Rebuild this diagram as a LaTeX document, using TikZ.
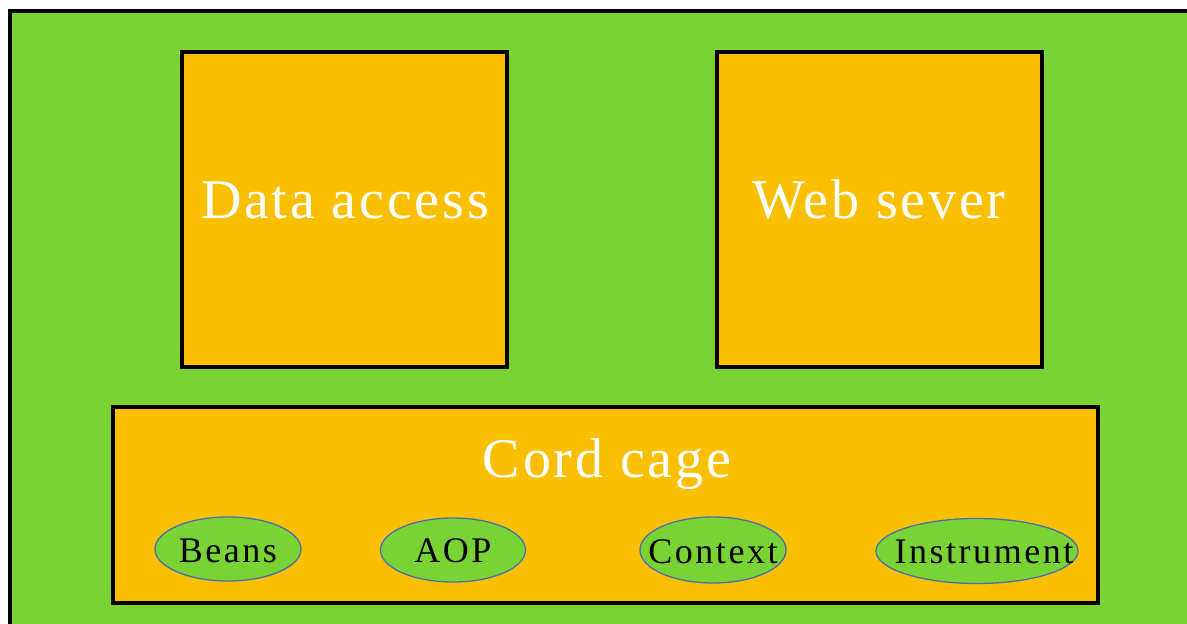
\documentclass[tikz,border=0pt]{standalone}
\usepackage{fontspec}
\setmainfont{Liberation Serif}
\usetikzlibrary{shapes.geometric}
\definecolor{bggreen}{HTML}{7AD334}
\definecolor{boxorange}{HTML}{FAC000}
\definecolor{ellblue}{HTML}{4A6FA8}
\tikzset{
  panel/.style={draw=black, line width=3.5pt, fill=boxorange},
  bigtext/.style={text=white, font=\fontsize{56}{60}\selectfont\addfontfeatures{LetterSpace=5}, anchor=base, inner sep=0pt},
  pill/.style={ellipse, draw=ellblue, line width=1.3pt, fill=bggreen, inner sep=0pt},
  smalltext/.style={text=black, font=\fontsize{36}{40}\selectfont\addfontfeatures{LetterSpace=7}, anchor=base, inner sep=0pt}
}
\begin{document}
\begin{tikzpicture}[x=1pt,y=-1pt]
\useasboundingbox (0,0) rectangle (1187,624);
\fill[white] (0,0) rectangle (1187,624);
\begin{scope}
\clip (0,0) rectangle (1187,624);
\draw[draw=black, line width=4pt, fill=bggreen] (10,11) rectangle (1210,650);
\end{scope}
\draw[panel] (182,52) rectangle (507,367);
\draw[panel] (717,52) rectangle (1042,367);
\draw[panel] (113,407) rectangle (1098,603);
\node[bigtext] (da) at (345,218) {Data access};
\node[bigtext] (ws) at (879,218) {Web sever};
\node[bigtext] (cc) at (607,477) {Cord cage};
\node[pill, minimum width=146pt, minimum height=64pt] (beans) at (228,549) {};
\node[pill, minimum width=145pt, minimum height=64pt] (aop) at (453,550) {};
\node[pill, minimum width=146pt, minimum height=66pt] (ctx) at (713,550) {};
\node[pill, minimum width=202pt, minimum height=65pt] (ins) at (977,551) {};
\node[smalltext] (beanst) at (228,562) {Beans};
\node[smalltext] (aopt) at (453,562) {AOP};
\node[smalltext] (ctxt) at (713,563) {Context};
\node[smalltext] (inst) at (984,563) {Instrument};
\end{tikzpicture}
\end{document}
